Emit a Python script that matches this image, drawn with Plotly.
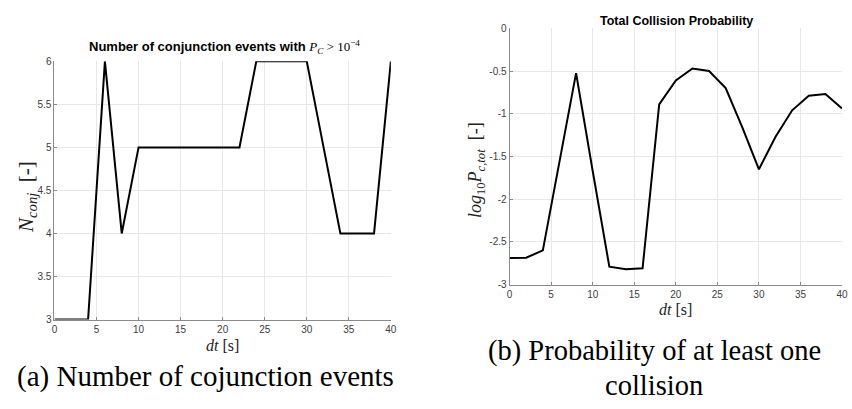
import plotly.graph_objects as go

# ---- data ----
dt = [0, 2, 4, 6, 8, 10, 12, 14, 16, 18, 20, 22, 24, 26, 28, 30, 32, 34, 36, 38, 40]
n_conj = [3, 3, 3, 6, 4, 5, 5, 5, 5, 5, 5, 5, 6, 6, 6, 6, 5, 4, 4, 4, 6]
log_pc = [-2.69, -2.685, -2.60, -1.55, -0.525, -1.67, -2.79, -2.82, -2.81, -0.89,
          -0.61, -0.47, -0.50, -0.70, -1.16, -1.65, -1.27, -0.96, -0.79, -0.77, -0.94]

x_ticks = [0, 5, 10, 15, 20, 25, 30, 35, 40]
x_ticktext = ["0", "5", "10", "15", "20", "25", "30", "35", "40"]
y1_ticks = [3, 3.5, 4, 4.5, 5, 5.5, 6]
y1_ticktext = ["3", "3.5", "4", "4.5", "5", "5.5", "6"]
y2_ticks = [-3, -2.5, -2, -1.5, -1, -0.5, 0]
y2_ticktext = ["-3", "-2.5", "-2", "-1.5", "-1", "-0.5", "0"]

W, H = 852, 409
fig = go.Figure()
fig.add_trace(go.Scatter(x=dt, y=n_conj, mode="lines", line=dict(color="black", width=2),
                         xaxis="x", yaxis="y", showlegend=False))
fig.add_trace(go.Scatter(x=dt, y=log_pc, mode="lines", line=dict(color="black", width=2),
                         xaxis="x2", yaxis="y2", showlegend=False))

def px(x):
    return x / W

def py(y):
    return 1 - y / H

tickfont = dict(family="Liberation Sans, Arial", size=10, color="#404040")
axcommon = dict(showgrid=True, gridcolor="#e8e8e8", gridwidth=1, zeroline=False,
                showline=True, linecolor="#8a8a8a", linewidth=1, ticks="inside",
                ticklen=3, tickcolor="#8a8a8a", tickfont=tickfont, mirror=False)

fig.update_layout(
    width=W, height=H, margin=dict(l=0, r=0, t=0, b=0),
    paper_bgcolor="white", plot_bgcolor="white",
    xaxis=dict(domain=[px(52), px(392)], range=[0, 40], tickvals=x_ticks, ticktext=x_ticktext,
               anchor="y", **axcommon),
    yaxis=dict(domain=[py(323), py(57)], range=[3, 6], tickvals=y1_ticks, ticktext=y1_ticktext,
               anchor="x", **axcommon),
    xaxis2=dict(domain=[px(512), px(848)], range=[0, 40], tickvals=x_ticks, ticktext=x_ticktext,
                anchor="y2", **axcommon),
    yaxis2=dict(domain=[py(287), py(23)], range=[-3, 0], tickvals=y2_ticks, ticktext=y2_ticktext,
                anchor="x2", **axcommon),
)

serif = "Liberation Serif, Times New Roman, serif"
sans = "Liberation Sans, Arial, sans-serif"

annots = [
    # titles
    dict(x=px(224), y=py(42), text="<b>Number of conjunction events with </b>"
         "<span style='font-family:Liberation Serif'><i>P</i><sub><i>C</i></sub> &gt; 10<sup>−4</sup></span>",
         font=dict(family=sans, size=13, color="black")),
    dict(x=px(681), y=py(15), text="<b>Total Collision Probability</b>",
         font=dict(family=sans, size=12.5, color="black")),
    # x labels
    dict(x=px(222), y=py(350), text="<i>dt</i> [s]", font=dict(family=serif, size=16, color="#222")),
    dict(x=px(680), y=py(313), text="<i>dt</i> [s]", font=dict(family=serif, size=16, color="#222")),
    # y labels
    dict(x=px(24), y=py(197), text="<i>N</i><sub><i>conj</i></sub>  [-]", textangle=-90,
         font=dict(family=serif, size=21, color="#222")),
    dict(x=px(478), y=py(169), text="<i>log</i><sub>10</sub><i>P</i><sub><i>c,tot</i></sub>  [-]", textangle=-90,
         font=dict(family=serif, size=18, color="#222")),
    # captions
    dict(x=px(205), y=py(382), text="(a) Number of cojunction events",
         font=dict(family=serif, size=29, color="black")),
    dict(x=px(658), y=py(355), text="(b) Probability of at least one",
         font=dict(family=serif, size=28.5, color="black")),
    dict(x=px(658), y=py(391), text="collision",
         font=dict(family=serif, size=28.5, color="black")),
]
for a in annots:
    fig.add_annotation(xref="paper", yref="paper", showarrow=False, xanchor="center",
                       yanchor="middle", **a)

fig.write_html("out.html")
